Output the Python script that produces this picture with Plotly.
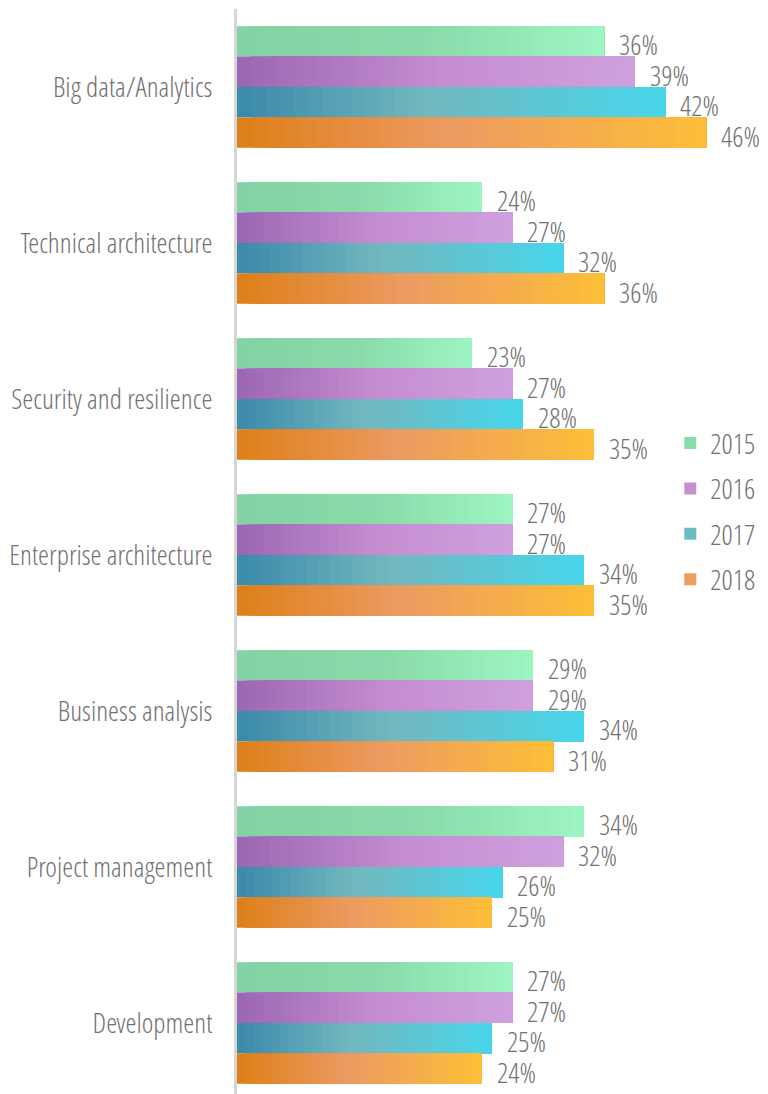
import plotly.graph_objects as go

categories = ["Big data/Analytics", "Technical architecture", "Security and resilience",
              "Enterprise architecture", "Business analysis", "Project management", "Development"]
years = ["2015", "2016", "2017", "2018"]
v2015 = [36, 24, 23, 27, 29, 34, 27]
v2016 = [39, 27, 27, 27, 29, 32, 27]
v2017 = [42, 32, 28, 34, 34, 26, 25]
v2018 = [46, 36, 35, 35, 31, 25, 24]
series = [v2015, v2016, v2017, v2018]

# gradient stops (left -> right) per series
gradients = [
    [(0.0, (132, 210, 165)), (0.5, (137, 218, 170)), (1.0, (157, 245, 194))],
    [(0.0, (155, 102, 179)), (0.5, (196, 141, 208)), (1.0, (208, 160, 221))],
    [(0.0, (58, 137, 170)), (0.45, (114, 184, 191)), (1.0, (71, 214, 235))],
    [(0.0, (221, 127, 23)), (0.45, (236, 154, 98)), (1.0, (253, 191, 56))],
]


def interp(stops, t):
    for (t0, c0), (t1, c1) in zip(stops[:-1], stops[1:]):
        if t <= t1:
            f = (t - t0) / (t1 - t0) if t1 > t0 else 0
            c = [round(a + (b - a) * f) for a, b in zip(c0, c1)]
            return f"rgb({c[0]},{c[1]},{c[2]})"
    c = stops[-1][1]
    return f"rgb({c[0]},{c[1]},{c[2]})"


FONT = "Open Sans Condensed Light, Roboto Condensed, DejaVu Sans Condensed, sans-serif"
GRAY = "#727272"
FS = 28
N = 30
bar_w = 0.195

fig = go.Figure()
for s, (year, vals, stops) in enumerate(zip(years, series, gradients)):
    offset = -2 * bar_w + s * bar_w
    for k in range(N):
        color = interp(stops, (k + 0.5) / N)
        fig.add_trace(go.Bar(
            y=categories,
            x=[v * (1 - k / N) for v in vals],
            base=[v * k / N for v in vals],
            orientation="h",
            width=bar_w,
            offset=offset,
            marker=dict(color=color, line=dict(width=0)),
            name=year,
            legendgroup=year,
            legendrank=s + 1,
            showlegend=(k == N // 2),
            hoverinfo="skip",
        ))
    for cat, v in zip(categories, vals):
        fig.add_annotation(
            x=v, y=cat, xref="x", yref="y",
            text=f"{v}%", showarrow=False,
            xanchor="left", yanchor="middle",
            xshift=13, yshift=-((s - 1.5) * 30.5 + 3),
            font=dict(family=FONT, size=FS, color=GRAY),
        )

fig.update_layout(
    width=760, height=1086,
    margin=dict(l=229, r=0, t=1, b=0, pad=0),
    barmode="overlay",
    plot_bgcolor="white", paper_bgcolor="white",
    font=dict(family=FONT, size=FS, color=GRAY),
    legend=dict(
        x=0.816, y=0.537, xanchor="left", yanchor="middle",
        traceorder="grouped", tracegroupgap=6,
        font=dict(family=FONT, size=FS, color=GRAY),
        bgcolor="rgba(0,0,0,0)",
    ),
    xaxis=dict(range=[0, 531 / 10.2], visible=False, showgrid=False, zeroline=False),
    yaxis=dict(
        categoryorder="array", categoryarray=categories,
        range=[6.455, -0.5], automargin=False,
        showline=True, linecolor="#d6d6d6", linewidth=3,
        ticks="outside", ticklen=16, tickcolor="rgba(0,0,0,0)",
        tickfont=dict(family=FONT, size=FS, color=GRAY),
        showgrid=False, zeroline=False,
    ),
)

fig.write_html("out.html")
